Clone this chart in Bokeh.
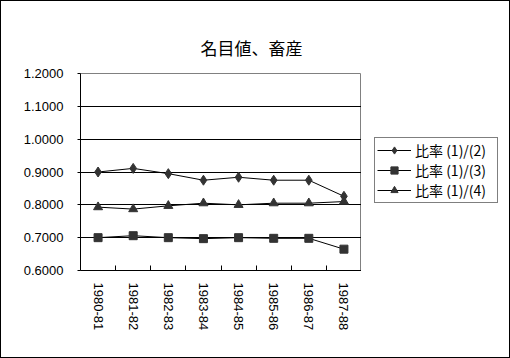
import math
from bokeh.plotting import figure
from bokeh.models import (ColumnDataSource, FixedTicker, NumeralTickFormatter,
                          Legend, LegendItem, Range1d)
from bokeh.layouts import row
from bokeh.embed import file_html
from bokeh.resources import INLINE

title_text = "名目値、畜産"
categories = ["1980-81", "1981-82", "1982-83", "1983-84", "1984-85",
              "1985-86", "1986-87", "1987-88"]
series_names = ["比率 (1)/(2)", "比率 (1)/(3)", "比率 (1)/(4)"]
ratio_1_2 = [0.900, 0.911, 0.895, 0.875, 0.884, 0.875, 0.875, 0.826]
ratio_1_3 = [0.700, 0.706, 0.700, 0.697, 0.700, 0.698, 0.698, 0.665]
ratio_1_4 = [0.793, 0.787, 0.797, 0.805, 0.800, 0.805, 0.805, 0.810]
y_ticks = [0.6, 0.7, 0.8, 0.9, 1.0, 1.1, 1.2]

xpos = [i + 0.5 for i in range(len(categories))]
bounds = [i for i in range(1, len(categories))]

p = figure(width=360, height=356, output_backend="svg", toolbar_location=None,
           x_range=Range1d(0, len(categories)), y_range=Range1d(0.6, 1.2),
           min_border_left=79, min_border_right=0, min_border_top=72,
           min_border_bottom=87)
p.background_fill_color = "white"
p.border_fill_color = "white"
p.outline_line_color = "#808080"
p.outline_line_width = 1

p.title.text = title_text
p.title.text_font = "Noto Sans CJK JP"
p.title.text_font_size = "17px"
p.title.text_font_style = "normal"
p.title.text_color = "black"
p.title.align = "left"
p.title.offset = 120
p.title.standoff = 28

# axes
p.xaxis.ticker = FixedTicker(ticks=xpos, minor_ticks=bounds)
p.xaxis.major_label_overrides = {x: c for x, c in zip(xpos, categories)}
p.xaxis.major_tick_in = 0
p.xaxis.major_tick_out = 0
p.xaxis.minor_tick_in = 5
p.xaxis.minor_tick_out = 0
p.xaxis.minor_tick_line_color = "black"
p.xaxis.major_label_orientation = -math.pi / 2
p.xaxis.major_label_standoff = 12
p.xaxis.major_label_text_font = "Liberation Sans"
p.xaxis.major_label_text_font_size = "13px"
p.xaxis.major_label_text_color = "black"
p.xaxis.axis_line_color = "black"

p.yaxis.ticker = FixedTicker(ticks=y_ticks)
p.yaxis.formatter = NumeralTickFormatter(format="0.0000")
p.yaxis.major_tick_in = 0
p.yaxis.major_tick_out = 3
p.yaxis.minor_tick_line_color = None
p.yaxis.major_label_standoff = 14
p.yaxis.major_label_text_font = "Liberation Sans"
p.yaxis.major_label_text_font_size = "13px"
p.yaxis.major_label_text_color = "black"
p.yaxis.axis_line_color = "black"

p.xgrid.grid_line_color = None
p.ygrid.grid_line_color = "black"
p.ygrid.grid_line_width = 1

src = ColumnDataSource(dict(x=xpos, a=ratio_1_2, b=ratio_1_3, c=ratio_1_4))
col = "#333333"
styles = [dict(marker="diamond", size=10), dict(marker="square", size=8),
          dict(marker="triangle", size=9)]
for key, st in zip(["a", "b", "c"], styles):
    p.line("x", key, source=src, line_color="black", line_width=1)
    p.scatter("x", key, source=src, fill_color=col, line_color=col, **st)

# legend panel (separate figure to the right of the chart; its own ranges keep
# the series out of view so only the legend shows)
pl = figure(width=148, height=356, output_backend="svg", toolbar_location=None,
            x_range=Range1d(100, 101), y_range=Range1d(100, 101),
            x_axis_type=None, y_axis_type=None,
            min_border_left=0, min_border_right=0, min_border_top=0,
            min_border_bottom=0)
pl.outline_line_color = None
pl.background_fill_color = "white"
pl.border_fill_color = "white"
items = []
for name, key, st in zip(series_names, ["a", "b", "c"], styles):
    rl = pl.line("x", key, source=src, line_color="black", line_width=1)
    rm = pl.scatter("x", key, source=src, fill_color=col, line_color=col, **st)
    items.append(LegendItem(label=name, renderers=[rl, rm]))

legend = Legend(items=items, location=(13, 67))
legend.border_line_color = "black"
legend.border_line_width = 1
legend.background_fill_color = "white"
legend.label_text_font = "Noto Sans CJK JP"
legend.label_text_font_size = "14px"
legend.label_text_color = "black"
legend.glyph_width = 34
legend.glyph_height = 18
legend.label_height = 18
legend.label_width = 80
legend.label_standoff = 4
legend.spacing = 0
legend.padding = 2
legend.margin = 0
pl.add_layout(legend, "center")

layout = row(p, pl, styles={"border": "1px solid black"})
open("out.html", "w").write(file_html(layout, INLINE))
